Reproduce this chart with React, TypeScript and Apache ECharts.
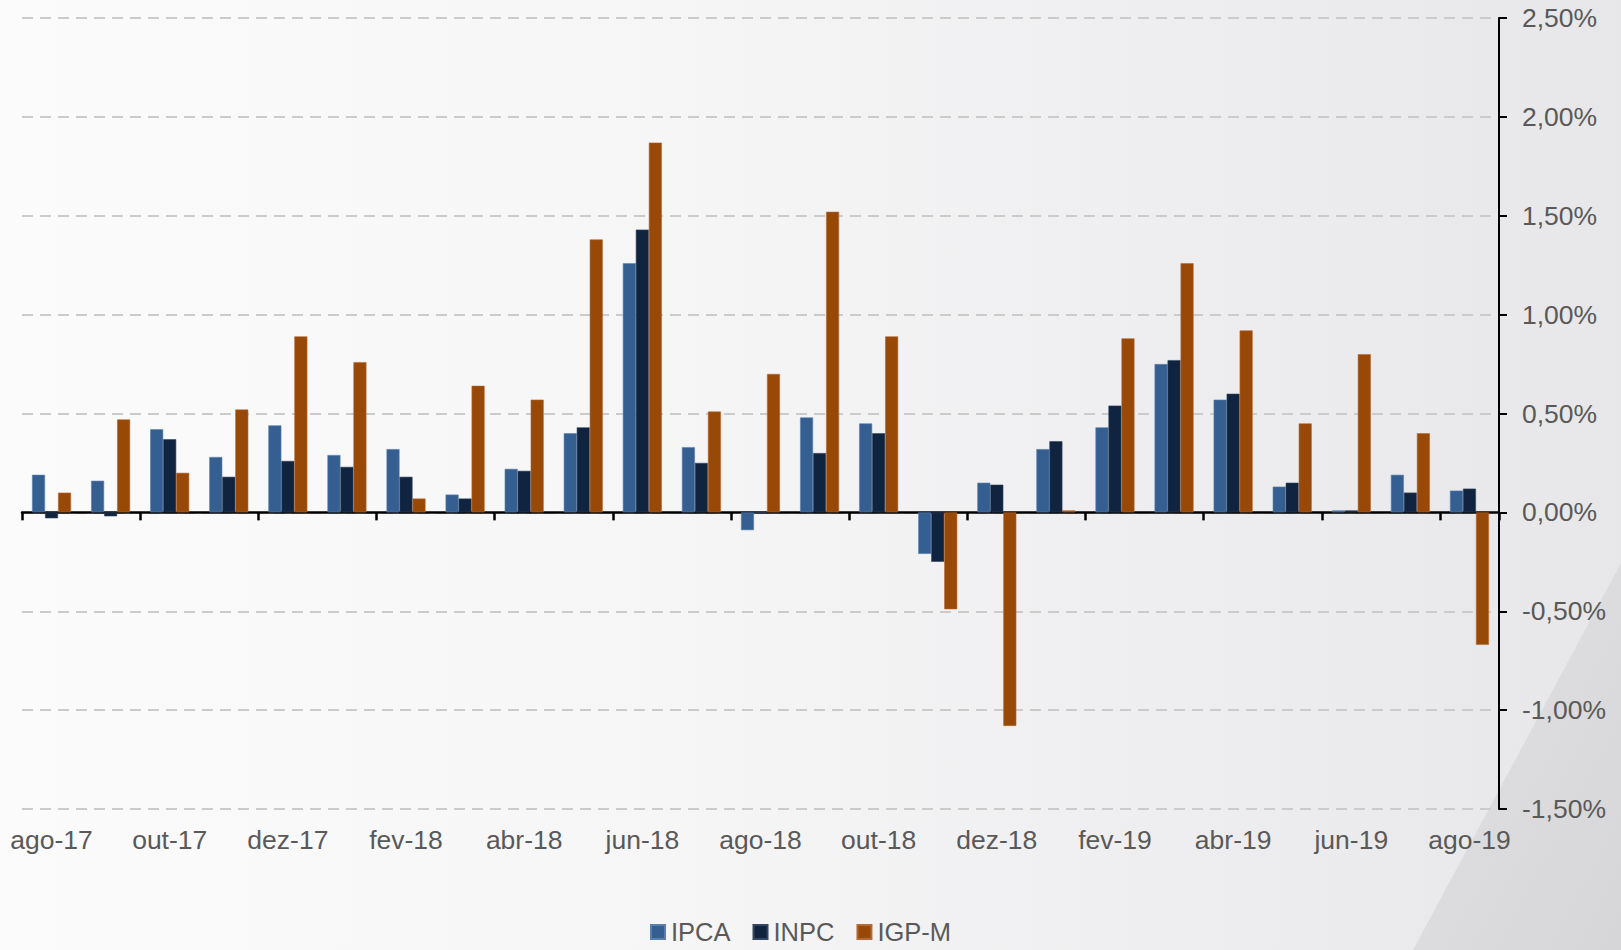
import React, { useEffect, useRef } from "react";
import * as echarts from "echarts";

const months = [
  "ago-17", "set-17", "out-17", "nov-17", "dez-17", "jan-18", "fev-18", "mar-18",
  "abr-18", "mai-18", "jun-18", "jul-18", "ago-18", "set-18", "out-18", "nov-18",
  "dez-18", "jan-19", "fev-19", "mar-19", "abr-19", "mai-19", "jun-19", "jul-19", "ago-19",
];
const ipca = [0.19, 0.16, 0.42, 0.28, 0.44, 0.29, 0.32, 0.09, 0.22, 0.40, 1.26, 0.33, -0.09, 0.48, 0.45, -0.21, 0.15, 0.32, 0.43, 0.75, 0.57, 0.13, 0.01, 0.19, 0.11];
const inpc = [-0.03, -0.02, 0.37, 0.18, 0.26, 0.23, 0.18, 0.07, 0.21, 0.43, 1.43, 0.25, 0.0, 0.30, 0.40, -0.25, 0.14, 0.36, 0.54, 0.77, 0.60, 0.15, 0.01, 0.10, 0.12];
const igpm = [0.10, 0.47, 0.20, 0.52, 0.89, 0.76, 0.07, 0.64, 0.57, 1.38, 1.87, 0.51, 0.70, 1.52, 0.89, -0.49, -1.08, 0.01, 0.88, 1.26, 0.92, 0.45, 0.80, 0.40, -0.67];
const seriesNames = ["IPCA", "INPC", "IGP-M"];
const seriesColors = ["#355f91", "#11243f", "#984807"];
const seriesBorders = ["#5a7fae", "#33455f", "#b46a35"];

const FONT = "'Liberation Sans', Arial, sans-serif";
const TEXT = "#595959";

export default function App() {
  const ref = useRef<HTMLDivElement>(null);
  useEffect(() => {
    if (!ref.current) return;
    const chart = echarts.init(ref.current, undefined, { renderer: "svg" });
    const data = [ipca, inpc, igpm];
    chart.setOption({
      animation: false,
      backgroundColor: "transparent",
      textStyle: { fontFamily: FONT },
      graphic: [
        {
          type: "polygon",
          z: -10,
          silent: true,
          shape: { points: [[1621, 563], [1621, 950], [1413, 950]] },
          style: {
            fill: new echarts.graphic.LinearGradient(0, 0, 1, 1, [
              { offset: 0, color: "#e2e2e4" },
              { offset: 1, color: "#d6d6d8" },
            ]),
          },
        },
        {
          type: "circle",
          z: -9,
          silent: true,
          shape: { cx: 1650, cy: 985, r: 45 },
          style: { fill: "#5a5a5c" },
        },
      ],
      grid: { left: 22, right: 122, top: 18, bottom: 141, containLabel: false },
      legend: {
        data: seriesNames,
        left: 645,
        top: 914,
        icon: "rect",
        itemWidth: 14,
        itemHeight: 14,
        itemGap: 22,
        textStyle: { fontSize: 25.5, color: TEXT, fontFamily: FONT, padding: [0, 0, 0, 1] },
      },
      xAxis: [
        {
          type: "category",
          data: months,
          position: "bottom",
          axisLine: { show: false, onZero: false },
          axisTick: { show: false },
          axisLabel: { interval: 1, fontSize: 26.5, color: TEXT, margin: 17, fontFamily: FONT },
          splitLine: { show: false },
        },
        {
          type: "category",
          data: months,
          position: "bottom",
          axisLine: { show: true, onZero: true, lineStyle: { color: "#000", width: 2.5 } },
          axisTick: { show: true, interval: 1, length: 8, lineStyle: { color: "#000", width: 2.5 } },
          axisLabel: { show: false },
          splitLine: { show: false },
        },
      ],
      yAxis: {
        type: "value",
        position: "right",
        min: -1.5,
        max: 2.5,
        interval: 0.5,
        axisLine: { show: true, lineStyle: { color: "#000", width: 2 } },
        axisTick: { show: true, length: 8, lineStyle: { color: "#000", width: 2 } },
        axisLabel: {
          fontSize: 26.5,
          color: TEXT,
          margin: 23,
          fontFamily: FONT,
          formatter: (v: number) => v.toFixed(2).replace(".", ",") + "%",
        },
        splitLine: { show: true, lineStyle: { color: "#cbcbcb", width: 2, type: [11, 7] } },
      },
      series: seriesNames.map((name, i) => ({
        name,
        type: "bar",
        xAxisIndex: 0,
        data: data[i],
        barWidth: 13,
        barGap: "0%",
        itemStyle: { color: seriesColors[i], borderColor: seriesBorders[i], borderWidth: 0.6 },
      })),
    });
    return () => chart.dispose();
  }, []);
  return (
    <div
      ref={ref}
      style={{
        position: "fixed",
        left: 0,
        top: 0,
        width: 1621,
        height: 950,
        background: "linear-gradient(90deg, #fbfbfc 0%, #f6f6f7 40%, #ececee 80%, #e7e7e9 100%)",
      }}
    />
  );
}
